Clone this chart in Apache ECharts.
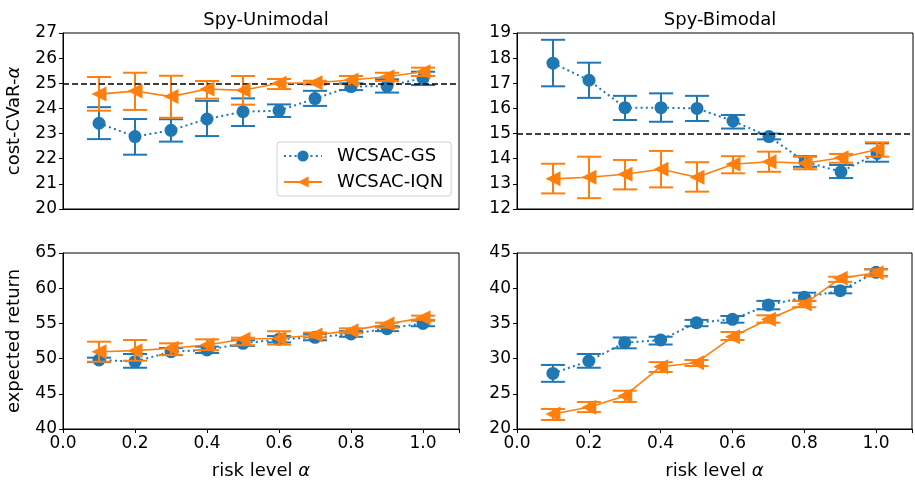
<!DOCTYPE html>
<html>
<head>
<meta charset="utf-8">
<script src="https://cdn.jsdelivr.net/npm/echarts@6/dist/echarts.min.js"></script>
<style>
  html, body { margin: 0; padding: 0; background: #fff; }
  #main { width: 915px; height: 481px; }
</style>
</head>
<body>
<div id="main"></div>
<script>
// risk levels
var alphas = [0.1, 0.2, 0.3, 0.4, 0.5, 0.6, 0.7, 0.8, 0.9, 1.0];

// Spy-Unimodal cost-CVaR
var uniGsCost   = [23.41, 22.88, 23.13, 23.58, 23.87, 23.91, 24.39, 24.87, 24.89, 25.20];
var uniGsCostLo = [22.78, 22.16, 22.68, 22.90, 23.30, 23.66, 24.10, 24.73, 24.63, 24.93];
var uniGsCostHi = [24.05, 23.58, 23.57, 24.30, 24.40, 24.16, 24.70, 25.00, 25.16, 25.46];
var uniIqnCost   = [24.57, 24.69, 24.47, 24.77, 24.72, 25.00, 25.02, 25.13, 25.26, 25.46];
var uniIqnCostLo = [23.91, 23.94, 23.63, 24.39, 24.15, 24.77, 24.95, 24.97, 25.09, 25.29];
var uniIqnCostHi = [25.25, 25.42, 25.30, 25.09, 25.29, 25.17, 25.10, 25.29, 25.42, 25.62];

// Spy-Bimodal cost-CVaR
var biGsCost   = [17.80, 17.12, 16.03, 16.03, 16.00, 15.50, 14.88, 13.88, 13.48, 14.21];
var biGsCostLo = [16.88, 16.42, 15.54, 15.47, 15.50, 15.20, 14.77, 13.68, 13.23, 13.88];
var biGsCostHi = [18.73, 17.82, 16.50, 16.60, 16.50, 15.74, 15.00, 14.10, 13.75, 14.61];
var biIqnCost   = [13.20, 13.26, 13.38, 13.58, 13.26, 13.78, 13.88, 13.82, 14.04, 14.37];
var biIqnCostLo = [12.62, 12.43, 12.78, 12.86, 12.69, 13.42, 13.48, 13.58, 13.84, 14.08];
var biIqnCostHi = [13.80, 14.08, 13.95, 14.31, 13.86, 14.10, 14.28, 14.08, 14.19, 14.65];

// Spy-Unimodal expected return
var uniGsRet   = [49.80, 49.56, 50.98, 51.22, 52.17, 52.74, 53.02, 53.50, 54.25, 55.00];
var uniGsRetLo = [49.50, 48.70, 50.50, 50.80, 51.80, 52.30, 52.60, 53.10, 53.90, 54.60];
var uniGsRetHi = [50.13, 50.65, 51.50, 51.70, 52.60, 53.20, 53.50, 53.90, 54.60, 55.40];
var uniIqnRet   = [50.98, 51.13, 51.46, 51.93, 52.74, 52.88, 53.35, 53.97, 54.90, 55.80];
var uniIqnRetLo = [49.56, 49.70, 50.50, 51.20, 51.90, 52.00, 53.00, 53.60, 54.40, 55.50];
var uniIqnRetHi = [52.40, 52.64, 52.17, 52.74, 52.97, 53.88, 53.70, 54.30, 55.10, 56.10];

// Spy-Bimodal expected return
var biGsRet   = [27.90, 29.66, 32.26, 32.64, 35.10, 35.58, 37.60, 38.70, 39.65, 42.26];
var biGsRetLo = [26.70, 28.70, 31.46, 32.00, 34.60, 35.10, 37.00, 38.20, 39.27, 41.70];
var biGsRetHi = [29.10, 30.65, 33.00, 33.10, 35.50, 36.05, 38.20, 39.36, 40.20, 42.70];
var biIqnRet   = [22.13, 23.08, 24.69, 28.85, 29.42, 33.10, 35.58, 37.75, 41.40, 42.20];
var biIqnRetLo = [21.28, 22.40, 23.84, 28.10, 28.95, 32.64, 35.10, 37.30, 40.90, 41.70];
var biIqnRetHi = [22.84, 23.84, 25.44, 29.50, 29.80, 33.78, 36.15, 38.20, 41.63, 42.68];

// cost thresholds (dashed lines)
var uniThreshold = 25;
var biThreshold = 15;

var BLUE = '#1f77b4';
var ORANGE = '#ff7f0e';
var FONT = 'DejaVu Sans';

var dom = document.getElementById('main');
var myChart = echarts.init(dom, null, {renderer: 'canvas'});

// 误差棒 (no name, so the legend picks the line series)
function errSeries(idx, lo, hi, color, z) {
    return {
        type: 'custom',
        xAxisIndex: idx,
        yAxisIndex: idx,
        z: z,
        silent: true,
        itemStyle: {color: color},
        data: alphas.map(function (a, i) { return [a, lo[i], hi[i]]; }),
        encode: {x: 0, y: [1, 2]},
        renderItem: function (params, api) {
            var x = api.value(0);
            var p1 = api.coord([x, api.value(1)]);
            var p2 = api.coord([x, api.value(2)]);
            var w = 12;
            var st = {stroke: color, lineWidth: 2};
            return {
                type: 'group',
                children: [
                    {type: 'line', shape: {x1: p1[0], y1: p1[1], x2: p2[0], y2: p2[1]}, style: st},
                    {type: 'line', shape: {x1: p1[0] - w, y1: p1[1], x2: p1[0] + w, y2: p1[1]}, style: st},
                    {type: 'line', shape: {x1: p2[0] - w, y1: p2[1], x2: p2[0] + w, y2: p2[1]}, style: st}
                ]
            };
        }
    };
}

function gsLine(idx, vals, z) {
    return {
        type: 'line', name: 'WCSAC-GS', xAxisIndex: idx, yAxisIndex: idx, z: z,
        data: alphas.map(function (a, i) { return [a, vals[i]]; }),
        symbol: 'circle', symbolSize: 13,
        itemStyle: {color: BLUE},
        lineStyle: {color: BLUE, width: 2, type: [2, 3.3]},
        animation: false
    };
}

function iqnLine(idx, vals, z) {
    return {
        type: 'line', name: 'WCSAC-IQN', xAxisIndex: idx, yAxisIndex: idx, z: z,
        data: alphas.map(function (a, i) { return [a, vals[i]]; }),
        symbol: 'triangle', symbolSize: 15, symbolRotate: 90,
        itemStyle: {color: ORANGE},
        lineStyle: {color: ORANGE, width: 1.6},
        animation: false
    };
}

function thresholdLine(idx, y) {
    return {
        type: 'line', xAxisIndex: idx, yAxisIndex: idx, data: [], z: 1,
        markLine: {
            silent: true, symbol: 'none', animation: false,
            label: {show: false},
            lineStyle: {color: '#000', type: [6, 3], width: 1.5},
            data: [{yAxis: y}]
        }
    };
}

// top row shares x with bottom row: no ticks, no labels there
function xAxisOf(idx, showLabels) {
    return {
        type: 'value', gridIndex: idx, min: 0, max: 1.1, interval: 0.2,
        name: showLabels ? 'risk level {a|α}' : '',
        nameLocation: 'middle', nameGap: 33,
        nameTextStyle: {color: '#000', fontSize: 18, fontFamily: FONT, rich: {a: {fontStyle: 'italic', fontSize: 18, fontFamily: FONT}}},
        axisLine: {show: true, onZero: false, lineStyle: {color: '#000', width: 1}},
        axisTick: {show: showLabels, length: 4, lineStyle: {color: '#000'}},
        splitLine: {show: false},
        axisLabel: {
            show: showLabels, color: '#000', fontSize: 17, fontFamily: FONT, margin: 6,
            formatter: function (v) { return v > 1.05 ? '' : v.toFixed(1); }
        }
    };
}

function yAxisOf(idx, min, max, interval, name) {
    return {
        type: 'value', gridIndex: idx, min: min, max: max, interval: interval,
        name: name, nameLocation: 'middle', nameGap: 40,
        nameTextStyle: {color: '#000', fontSize: 18, fontFamily: FONT, rich: {a: {fontStyle: 'italic', fontSize: 18, fontFamily: FONT}}},
        axisLine: {show: true, onZero: false, lineStyle: {color: '#000', width: 1}},
        axisTick: {show: true, length: 4, lineStyle: {color: '#000'}},
        splitLine: {show: false},
        axisLabel: {color: '#000', fontSize: 17, fontFamily: FONT, margin: 6}
    };
}

var gridBase = {width: 396, height: 176, show: true, borderColor: '#000', borderWidth: 1, backgroundColor: 'transparent'};

myChart.setOption({
    animation: false,
    backgroundColor: '#fff',
    title: [
        {text: 'Spy-Unimodal', left: 261, top: 6, textAlign: 'center', textStyle: {fontSize: 18, fontWeight: 'normal', color: '#000', fontFamily: FONT}},
        {text: 'Spy-Bimodal', left: 715, top: 6, textAlign: 'center', textStyle: {fontSize: 18, fontWeight: 'normal', color: '#000', fontFamily: FONT}}
    ],
    legend: {
        data: ['WCSAC-GS', 'WCSAC-IQN'],
        orient: 'vertical',
        left: 277, top: 142,
        itemWidth: 38, itemHeight: 14, itemGap: 8,
        padding: [5, 8, 5, 6],
        borderColor: '#d0d0d0', borderWidth: 1, borderRadius: 3,
        backgroundColor: 'rgba(255,255,255,0.8)',
        textStyle: {fontSize: 18, color: '#000', fontFamily: FONT, padding: [0, 0, 0, 10]},
        z: 20
    },
    grid: [
        Object.assign({left: 63, top: 33}, gridBase),
        Object.assign({left: 517, top: 33}, gridBase),
        Object.assign({left: 63, top: 253}, gridBase),
        Object.assign({left: 517, top: 253}, gridBase)
    ],
    xAxis: [xAxisOf(0, false), xAxisOf(1, false), xAxisOf(2, true), xAxisOf(3, true)],
    yAxis: [
        yAxisOf(0, 20, 27, 1, 'cost-CVaR-{a|α}'),
        yAxisOf(1, 12, 19, 1, ''),
        yAxisOf(2, 40, 65, 5, 'expected return'),
        yAxisOf(3, 20, 45, 5, '')
    ],
    series: [
        thresholdLine(0, uniThreshold),
        errSeries(0, uniGsCostLo, uniGsCostHi, BLUE, 2),
        gsLine(0, uniGsCost, 3),
        errSeries(0, uniIqnCostLo, uniIqnCostHi, ORANGE, 4),
        iqnLine(0, uniIqnCost, 5),

        thresholdLine(1, biThreshold),
        errSeries(1, biGsCostLo, biGsCostHi, BLUE, 2),
        gsLine(1, biGsCost, 3),
        errSeries(1, biIqnCostLo, biIqnCostHi, ORANGE, 4),
        iqnLine(1, biIqnCost, 5),

        errSeries(2, uniGsRetLo, uniGsRetHi, BLUE, 2),
        gsLine(2, uniGsRet, 3),
        errSeries(2, uniIqnRetLo, uniIqnRetHi, ORANGE, 4),
        iqnLine(2, uniIqnRet, 5),

        errSeries(3, biGsRetLo, biGsRetHi, BLUE, 2),
        gsLine(3, biGsRet, 3),
        errSeries(3, biIqnRetLo, biIqnRetHi, ORANGE, 4),
        iqnLine(3, biIqnRet, 5)
    ]
});
</script>
</body>
</html>
